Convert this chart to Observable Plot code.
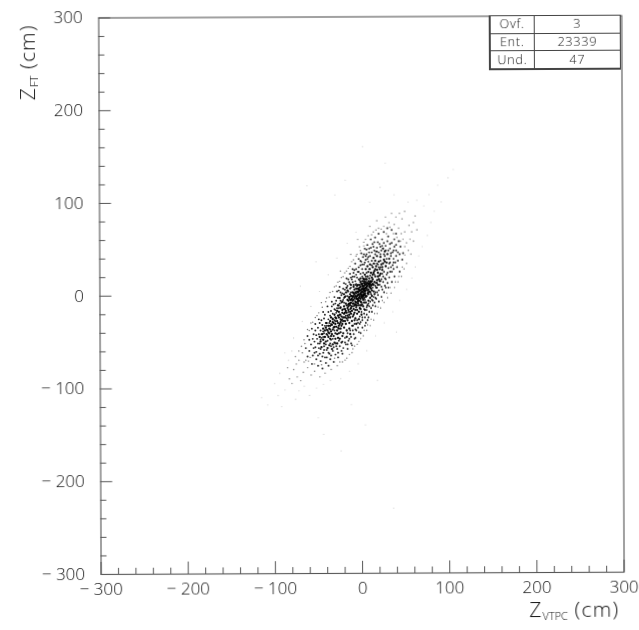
<!DOCTYPE html>
<html><head><meta charset="utf-8">
<script src="https://cdn.jsdelivr.net/npm/d3@7"></script>
<script src="https://cdn.jsdelivr.net/npm/@observablehq/plot@0.6"></script>
<style>
html,body{margin:0;padding:0;background:#fff;overflow:hidden}
#page{position:relative;width:639px;height:630px;transform:rotate(-0.25deg);filter:blur(0.35px);font-family:"Open Sans",sans-serif;font-weight:300;color:#111}
#page svg{display:block;position:absolute;left:0;top:0}
table.stats{position:absolute;left:490px;top:16px;width:132px;height:55px;border-collapse:collapse;font-size:12.5px;letter-spacing:.8px;background:#fff}
table.stats td{border:1px solid #444;padding:0;line-height:16px;text-align:center}
table.stats td:first-child{border-left:2px solid #444;width:43px}
table.stats tr:last-child td{border-bottom:2px solid #444}
.lab{position:absolute;font-size:21px;white-space:nowrap;letter-spacing:1.2px}
.lab sub{font-size:11px;vertical-align:-3px;letter-spacing:0}
.y{left:-27px;top:47px;transform:rotate(-90deg);width:110px;text-align:center}
.x{left:528px;top:596px}
</style></head><body><div id="page"></div>
<script>
const zVtpcMajor = [-300,-200,-100,0,100,200,300];
const zFtMajor = [-300,-200,-100,0,100,200,300];
const minorTicks = [-280,-260,-240,-220,-180,-160,-140,-120,-80,-60,-40,-20,20,40,60,80,120,140,160,180,220,240,260,280];
const statLabels = ["Ovf.","Ent.","Und."];
const statValues = ["3","23339","47"];
const axisTitleX = ["Z","VTPC"," (cm)"];
const axisTitleY = ["Z","FT"," (cm)"];

const corePts = [[-6,-2],[-3,1],[0,3],[2,6],[-9,-5],[-12,-8],[4,2],[6,9],[-1,-4],[-5,4],[8,6],[1,-1],[-8,1],[-4,-7],[3,10],[10,12],[-14,-3],[-11,-12],[7,2],[12,15],[-2,8],[5,14],[-7,-10],[-16,-14],[-18,-9],[14,11],[0,12],[-10,3],[9,18],[2,-5],
[16,20],[-13,-18],[-20,-20],[-3,-11],[11,7],[3,17],[-6,7],[-15,-6],[-22,-16],[6,-1],[13,22],[18,16],[-9,-15],[-19,-24],[-24,-26],[1,7],[-1,14],[7,13],[-4,11],[-12,-1],[10,3],[15,26],[4,22],[-17,-19],[-25,-21],[-8,-19],[-2,-14],[19,24],[21,28],[8,25],
[-27,-30],[-29,-25],[-21,-28],[-31,-34],[-26,-36],[-33,-29],[-23,-33],[-35,-39],[-30,-41],[-28,-38],[-37,-36],[-32,-44],[-20,-35],[-24,-40],[-38,-45],[-16,-27],[-18,-31],[-13,-24],[-10,-23],[-5,-16],[-7,-25],[-14,-30],[-34,-32],[-40,-42],[-36,-47],[-27,-46],[-41,-50],[-22,-44],[-44,-48],[-31,-51],
[2,18],[5,28],[11,24],[17,31],[23,33],[13,30],[20,36],[7,31],[26,38],[16,37],[24,27],[10,33],[28,31],[22,41],[30,44],[18,42],[27,47],[14,40],[32,39],[25,50],
[-11,-4],[-7,-7],[-3,-3],[0,-8],[3,0],[5,5],[-5,-1],[-1,2],[2,3],[-9,2],[-13,-11],[-15,-16],[-10,-9],[-6,-13],[-2,5],[1,10],[4,7],[6,12],[8,15],[9,9],[-4,-5],[-8,-11],[-12,-14],[-17,-11],[-14,-21],[-19,-15],[-11,-17],[-23,-23],[-26,-24],[-16,-22],[0,0],[-2,-1],[-4,3],[2,1],[4,4],[-6,-4],[-8,-3],[-10,-6],[6,7],[3,5],[-1,9],[1,15],[7,20],[12,19],[15,14],[11,10],[13,17],[9,13],[5,11],[-3,6],
[-20,-12],[-22,-19],[-18,-17],[-28,-28],[-25,-31],[-30,-31],[-33,-37],[-24,-29],[-29,-34],[-34,-42],[-21,-24],[-27,-22],[-36,-33],[-39,-38],[-42,-45],[-37,-41],[-15,-12],[-7,-16],[-4,-9],[0,-11],[3,-3],[8,1],[10,8],[12,5],[17,13],[19,20],[20,17],[22,23],[24,30],[14,24],[16,28],[18,27],[21,21],[25,34],[27,36],[29,35],[6,17],[3,13],[-1,18],[-5,10],[-8,6],[-11,-1],[-14,-9],[-16,-5],[-19,-19],[-23,-27],
[-2,11],[0,6],[2,9],[4,12],[-4,0],[-6,2],[-9,-1],[-1,-7],[1,-3],[3,-8],[5,-2],[7,5],[9,4],[11,14],[13,12],[-13,-5],[-12,-20],[-9,-21],[-6,-8],[-3,-18],[-17,-25],[-15,-24],[-19,-28],[-22,-31],[-26,-33],[-28,-42],[-24,-36],[-35,-44],[-32,-35],[-38,-40],
[-22,-7],[-25,-3],[-19,-2],[-27,-11],[-24,-13],[-20,1],[-16,5],[-13,1],[-17,8],[-12,11],[-9,9],[-14,-2],[-28,-17],[-31,-21],[-26,-18],[-33,-26],[-30,-24],[-36,-28],[14,4],[17,8],[12,-1],[15,1],[19,11],[21,15],[10,-3],[8,-6],[5,-8],[7,-11],[2,-12],[-1,-15],[4,-16],[-5,-20],[0,-21],[-8,-27],[-3,-26],[-11,-28],[-6,-31],[-14,-36],[-10,-33],[-17,-38],[-13,-42],[-21,-41],[-17,-45],[-25,-47],
[-42,-38],[-40,-30],[-45,-42],[-47,-50],[-43,-52],[-37,-54],[-33,-53],[-28,-52],[-23,-51],[-46,-56],[-39,-57],[-34,-58],[-30,-47],[-48,-45],[-26,-41],[-38,-33],[-35,-24],[-41,-35],[-44,-36],[-32,-30],
[-1,1],[1,4],[3,7],[-3,4],[-5,-4],[-7,-1],[5,8],[7,10],[9,11],[-2,-3],[0,-2],[2,-1],[4,0],[-10,-2],[-12,-5],[-13,-9],[-7,3],[-4,7],[-1,5],[1,12],[3,15],[5,17],[8,12],[10,15],[12,11],[-15,-10],[-9,-9],[-6,-11],[-3,-6],[-1,-11]];

const midPts = [[-52,-61],[-47,-58],[-44,-62],[-40,-59],[-55,-57],[-48,-52],[-41,-53],[-35,-55],[-51,-47],[-46,-46],[-58,-53],[-43,-41],[-47,-38],[-52,-43],[-45,-32],[-50,-35],[-41,-30],[-38,-26],[-43,-25],[-36,-22],[-33,-20],[-31,-15],[-40,-33],[-35,-17],[-28,-14],[-30,-9],[-26,-11],[-24,-6],[-27,-3],[-21,-5],
[-22,2],[-18,-1],[-24,3],[-19,6],[-15,4],[-12,8],[-16,10],[-14,14],[-9,11],[-11,17],[-7,15],[-8,20],[-5,19],[-4,25],[-9,24],[-1,23],[1,28],[-3,30],[3,33],[0,36],[5,38],[8,36],[2,41],[6,44],[10,42],[12,46],[9,50],[15,48],[18,51],[13,55],
[20,46],[23,48],[21,55],[26,56],[24,60],[28,53],[30,58],[33,50],[35,56],[31,63],[36,46],[38,52],[34,42],[37,39],[40,48],[33,35],[36,32],[40,42],[42,37],[31,29],[33,25],[37,28],[29,22],[32,19],[28,17],[25,14],[27,10],[23,9],[30,13],[20,5],
[18,8],[21,11],[16,3],[19,0],[14,-2],[17,-4],[12,-5],[15,-8],[10,-7],[13,-11],[8,-9],[11,-14],[6,-13],[9,-18],[3,-15],[6,-21],[0,-18],[4,-24],[-2,-23],[1,-27],[-5,-27],[-2,-31],[-8,-31],[-4,-35],[-11,-33],[-7,-37],[-13,-38],[-9,-42],[-16,-41],[-12,-45],
[-19,-46],[-15,-49],[-22,-50],[-18,-53],[-25,-55],[-21,-57],[-28,-58],[-33,-60],[-30,-64],[-37,-63],[-42,-67],[-36,-69],[-47,-71],[-41,-73],[-52,-69],[-56,-65],[-60,-60],[-62,-66],[-50,-76],[-45,-79],[-57,-74],[-60,-48],[-55,-42],[-64,-57],[-57,-36],[-62,-44],[-49,-26],[-53,-31],[-44,-18],[-39,-12],
[-34,-7],[-31,-2],[-28,4],[-25,9],[-20,13],[-17,18],[-13,23],[-10,28],[-7,34],[-3,39],[0,45],[4,50],[7,54],[11,60],[16,62],[20,66],[26,68],[30,72],[35,70],[40,66],[38,60],[43,58],[45,52],[48,45],[44,44],[47,38],[41,30],[44,25],[38,20],[35,14],
[31,8],[26,3],[23,-2],[20,-7],[16,-12],[12,-18],[8,-24],[5,-30],[1,-35],[-3,-40],[-7,-46],[-12,-52],[-16,-58],[-22,-63],[-27,-67],[-32,-72],[-38,-76],[-30,-52],[-36,-52],[-26,-49],[-43,-55],[-49,-57],[-33,-47],[-54,-50],[-46,-42],[-40,-37],[-48,-30],[-33,-25],[-37,-30],[-29,-19],
[-24,-14],[-20,-8],[-16,-1],[-12,3],[-6,12],[-3,17],[2,24],[6,24],[10,28],[14,34],[18,34],[22,37],[8,41],[12,37],[4,35],[16,44],[22,44],[27,42],[31,48],[24,53],[28,48],[34,45],[19,57],[14,52],[6,49],[-1,32],[-6,28],[-10,20],[-13,12],[-17,3],
[-56,-47],[-50,-52],[-53,-56],[-49,-42],[-44,-45],[-39,-49],[-35,-48],[-48,-63],[-43,-59],[-38,-62],[-53,-38],[-46,-27],[-42,-21],[-38,-18],[-34,-12],[-30,-16],[-25,-9],[-23,0],[-20,-3],[-26,5],[-29,-6],[-32,-10],[-21,7],[-18,12],[-15,17],[-12,19],[-8,27],[-6,22],[-3,25],[-1,37],[1,33],[3,44],[5,42],[9,46],[7,39],[11,51],[15,57],[17,47],[12,32],[9,28],[15,22],[20,30],[24,23],[27,18],[30,24],[34,30],[37,35],[32,34],[29,39],[26,44],[33,55],[37,48],[22,52],[18,47],[40,54],[42,46],[39,35],[35,25],[25,20],[22,15],[18,3],[24,6],[28,8],[16,-3],[13,-6],[9,-12],[6,-16],[3,-20],[1,-24],[7,-27],[-1,-29],[4,-33],[-4,-30],[-6,-38],[-1,-41],[-10,-38],[-8,-47],[-14,-47],[-11,-54],[-19,-51],[-23,-60],[-16,-53],[-27,-62],[-32,-56],[-35,-65],[-40,-67],[-45,-66],[-50,-65],[-29,-55],[-54,-62],[-47,-48],
[-24,-21],[-21,-15],[-18,-22],[-30,-28],[-27,-35],[-36,-37],[-39,-43],[-44,-39],[-31,-38],[-22,-26],[-15,-18],[-13,-15],[-9,-12],[-5,-11],[-2,-6],[1,-10],[4,-5],[8,3],[11,1],[13,8],[16,10],[18,13],[23,17],[26,25],[22,30],[19,33],[15,34],[10,21],[5,20],[1,20],[-2,16],[-7,11],[-10,14],[-13,7],[-18,3],[-23,-8],[-26,-14],[-31,-27],[-35,-31],[-42,-33]];

const outerPts = [[-80,-95],[-74,-88],[-70,-92],[-67,-83],[-78,-80],[-62,-78],[-66,-72],[-72,-70],[-68,-62],[-75,-74],[-58,-86],[-54,-82],[-48,-88],[-42,-84],[-35,-80],[-28,-76],[-22,-72],[-17,-68],[-11,-62],[-8,-55],[-3,-50],[2,-44],[6,-38],[10,-33],[14,-27],[18,-20],[22,-14],[26,-8],[30,-3],[34,2],
[38,8],[42,14],[46,20],[49,28],[52,34],[50,43],[54,48],[52,56],[48,60],[46,66],[43,72],[50,68],[38,76],[32,78],[26,74],[20,72],[14,68],[8,64],[3,57],[-2,52],[-5,44],[-9,38],[-13,31],[-17,26],[-21,20],[-25,15],[-29,10],[-33,4],[-37,-2],[-41,-7],
[-45,-13],[-49,-19],[-53,-24],[-58,-30],[-62,-37],[-66,-48],[-69,-55],[-72,-60],[-76,-66],[-83,-90],[-85,-78],[56,60],[58,68],[60,78],[62,85],[55,75],[47,82],[40,84],[35,88],[50,90],[64,70],[60,58],[57,44],[44,88],[28,84],[18,80],[10,74],[-4,60],[-12,44],[-24,26],
[-64,-70],[-59,-67],[-65,-52],[-60,-38],[-56,-29],[-51,-22],[-46,-8],[-40,-3],[-36,3],[-31,9],[-27,14],[-23,19],[-19,24],[-15,29],[-11,36],[-6,42],[-1,48],[3,53],[5,60],[12,65],[17,70],[23,71],[29,66],[33,73],[37,66],[41,62],[45,58],[50,52],[47,30],[43,20],[39,14],[33,8],[29,2],[24,-6],[19,-13],[15,-20],[11,-26],[7,-32],[3,-38],[-1,-47],[-5,-53],[-10,-58],[-14,-64],[-19,-70],[-25,-72],[-31,-68],[-46,-75],[-54,-74],[-61,-71]];

const faintPts = [[-115,-110],[-108,-118],[-100,-95],[-96,-108],[-92,-120],[-88,-102],[-84,-70],[-80,-60],[-76,-112],[-72,-103],[-66,-98],[-60,-108],[-52,-100],[-44,-96],[-36,-92],[-24,-90],[-14,-82],[-4,-74],[6,-60],[16,-44],[26,-30],[36,-18],[44,-6],[52,6],[58,18],[62,30],[66,42],[70,52],[76,64],[80,78],[84,90],[72,96],[64,102],[54,100],[38,108],[78,108],[88,118],[92,100],[100,126],[106,135],[-6,68],[-16,56],[-28,40],[-38,22],[-48,4],[-58,-12],[-68,-28],[-78,-46],[-88,-62],[-94,-84],[-30,108],[-18,124],[-44,-150],[10,100],[22,116],[-24,-168],[36,-230],[4,-140],[-62,118],[28,142],[2,160],[-50,-132],[-12,-118],[18,-92],[40,-40],[-70,10],[-52,36]];

const dot = (pts, r, fill, o) => Plot.dot(pts, {x: d => d[0], y: d => d[1], r, fill, fillOpacity: o, stroke: "none"});

const chart = Plot.plot({
  width: 639, height: 630,
  marginLeft: 99.5, marginRight: 16.5, marginTop: 16.5, marginBottom: 57,
  style: {background: "#fff", fontFamily: '"Open Sans",sans-serif', fontWeight: 300, fontSize: "17px", color: "#111"},
  x: {domain: [-300, 300], label: null},
  y: {domain: [-300, 300], label: null},
  marks: [
    dot(faintPts, 0.55, "#000", 0.22),
    dot(outerPts, 0.7, "#000", 0.55),
    dot(midPts, 0.95, "#000", 0.85),
    dot(corePts, 1.15, "#000", 0.95),
    Plot.frame({stroke: "#555", strokeWidth: 1.1}),
    Plot.axisX({ticks: minorTicks, tickSize: -6, text: null, stroke: "#555"}),
    Plot.axisX({ticks: zVtpcMajor, tickSize: -12, text: null, stroke: "#555"}),
    Plot.axisY({ticks: minorTicks, tickSize: -6, text: null, stroke: "#555"}),
    Plot.axisY({ticks: zFtMajor, tickSize: -12, text: null, stroke: "#555"}),
    Plot.axisX({ticks: zVtpcMajor, tickSize: 0, tickPadding: 8, tickFormat: d => d < 0 ? "\u2212 " + (-d) : String(d), label: null, fill: "#111"}),
    Plot.axisY({ticks: zFtMajor, tickSize: 0, tickPadding: 16, tickFormat: d => d < 0 ? "\u2212 " + (-d) : String(d), label: null, fill: "#111"})
  ]
});
const page = document.getElementById("page");
page.appendChild(chart);

const table = document.createElement("table");
table.className = "stats";
statLabels.forEach((l, i) => {
  const tr = table.insertRow();
  tr.insertCell().textContent = l;
  tr.insertCell().textContent = statValues[i];
});
page.appendChild(table);

function title(parts, cls) {
  const el = document.createElement("div");
  el.className = "lab " + cls;
  el.append(parts[0]);
  const s = document.createElement("sub");
  s.textContent = parts[1];
  el.append(s, parts[2]);
  page.appendChild(el);
}
title(axisTitleY, "y");
title(axisTitleX, "x");
</script></body></html>
